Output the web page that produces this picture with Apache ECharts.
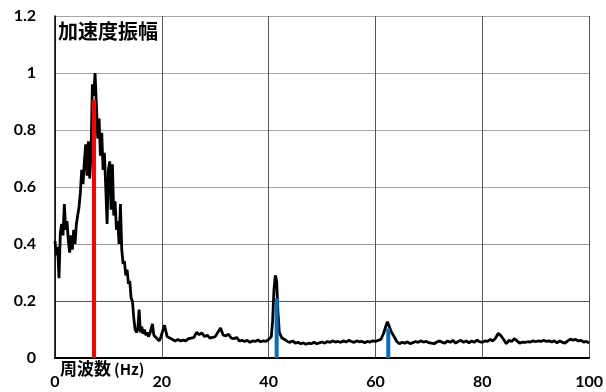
<!DOCTYPE html>
<html>
<head>
<meta charset="utf-8">
<script src="https://cdn.jsdelivr.net/npm/echarts@6/dist/echarts.min.js"></script>
<style>
html,body{margin:0;padding:0;background:#fff;}
#c{width:606px;height:392px;}
</style>
</head>
<body>
<div id="c"></div>
<script>
// Frequency (Hz) sample points of the spectrum
const freqHz = [
  0,0.25,0.5,0.75,1,1.25,1.5,1.75,2,2.25,2.5,2.75,3,3.25,3.5,3.75,4,4.25,4.5,4.75,
  5,5.25,5.5,5.75,6,6.25,6.5,6.75,7,7.25,7.5,7.75,8,8.25,8.5,8.75,9,9.25,9.5,9.75,
  10,10.25,10.5,10.75,11,11.25,11.5,11.75,12,12.25,12.5,12.75,13,13.25,13.5,13.75,14,14.25,14.5,14.75,
  15,15.25,15.5,15.75,16,16.25,16.5,16.75,17,17.25,17.5,17.75,18,18.25,18.5,18.75,19,19.25,19.5,19.75,
  20,20.5,21,21.5,22,22.5,23,23.5,24,24.5,25,25.5,26,26.5,27,27.5,28,28.5,29,29.5,
  30,30.5,31,31.5,32,32.5,33,33.5,34,34.5,35,35.5,36,36.5,37,37.5,38,38.5,39,39.5,
  40,40.5,40.75,41,41.25,41.5,41.75,42,42.5,43,43.5,44,44.5,45,45.5,46,46.5,47,47.5,48,48.5,49,49.5,
  50,50.5,51,51.5,52,52.5,53,53.5,54,54.5,55,55.5,56,56.5,57,57.5,58,58.5,59,59.5,
  60,60.5,61,61.5,62,62.25,62.5,63,63.5,64,64.5,65,65.5,66,66.5,67,67.5,68,68.5,69,69.5,
  70,70.5,71,71.5,72,72.5,73,73.5,74,74.5,75,75.5,76,76.5,77,77.5,78,78.5,79,79.5,
  80,80.5,81,81.5,82,82.5,83,83.5,84,84.5,85,85.5,86,86.5,87,87.5,88,88.5,89,89.5,
  90,90.5,91,91.5,92,92.5,93,93.5,94,94.5,95,95.5,96,96.5,97,97.5,98,98.5,99,99.5,100
];
// Acceleration amplitude at each frequency point
const accelAmp = [
  0.41,0.36,0.39,0.28,0.44,0.47,0.43,0.54,0.45,0.48,0.41,0.37,0.43,0.38,0.45,0.40,0.47,0.50,0.53,0.58,
  0.66,0.61,0.69,0.75,0.64,0.76,0.63,0.72,0.96,0.92,1.00,0.89,0.77,0.84,0.71,0.79,0.66,0.72,0.60,0.47,
  0.66,0.69,0.52,0.68,0.50,0.55,0.45,0.48,0.40,0.54,0.38,0.33,0.34,0.29,0.31,0.26,0.27,0.21,0.20,0.14,
  0.10,0.09,0.10,0.17,0.09,0.11,0.085,0.10,0.08,0.09,0.075,0.085,0.08,0.12,0.08,0.075,0.07,0.065,0.06,0.07,
  0.065,0.115,0.075,0.07,0.065,0.06,0.065,0.06,0.063,0.06,0.068,0.07,0.072,0.09,0.082,0.088,0.075,0.08,0.07,0.072,
  0.075,0.09,0.105,0.08,0.078,0.083,0.07,0.068,0.072,0.06,0.062,0.058,0.062,0.055,0.06,0.058,0.063,0.057,0.06,0.058,
  0.065,0.075,0.13,0.24,0.29,0.27,0.16,0.09,0.07,0.065,0.058,0.055,0.06,0.052,0.055,0.05,0.053,0.048,0.052,0.05,0.055,0.05,0.053,
  0.056,0.052,0.058,0.055,0.06,0.056,0.058,0.055,0.06,0.056,0.062,0.058,0.055,0.06,0.057,0.058,0.054,0.058,0.056,0.06,
  0.058,0.062,0.065,0.085,0.115,0.127,0.12,0.09,0.075,0.058,0.05,0.055,0.052,0.057,0.05,0.054,0.058,0.055,0.06,0.056,0.058,
  0.054,0.052,0.05,0.056,0.06,0.055,0.052,0.06,0.055,0.062,0.052,0.058,0.062,0.055,0.06,0.053,0.06,0.055,0.063,0.057,
  0.055,0.06,0.058,0.065,0.06,0.07,0.087,0.078,0.065,0.05,0.062,0.058,0.068,0.06,0.052,0.056,0.055,0.057,0.056,0.06,
  0.057,0.06,0.058,0.062,0.058,0.06,0.056,0.06,0.053,0.06,0.055,0.052,0.06,0.066,0.063,0.065,0.06,0.062,0.056,0.058,0.053
];
// Highlighted peaks
const redPeakFreq = [7.3];
const redPeakAmp = [0.907];
const bluePeakFreq = [41.5, 62.4];
const bluePeakAmp = [0.21, 0.104];
// Axis ticks
const yTickMax = 1.2, yTickStep = 0.2;
const xTickMax = 100, xTickStep = 20;
const titleText = '加速度振幅';
const xNameMain = '周波数';
const xNameUnit = '(Hz)';

const lineData = freqHz.map((f, i) => [f, accelAmp[i]]);
const redData = redPeakFreq.map((f, i) => [f, redPeakAmp[i]]);
const blueData = bluePeakFreq.map((f, i) => [f, bluePeakAmp[i]]);

const numFont = 'Lato, "Open Sans", "Liberation Sans", sans-serif';
const cjkFont = '"Noto Sans CJK JP", "Noto Sans CJK SC", sans-serif';

const chart = echarts.init(document.getElementById('c'), null, {renderer: 'canvas'});
chart.setOption({
  animation: false,
  backgroundColor: '#fff',
  grid: {left: 55, right: 15, top: 16, bottom: 34, containLabel: false},
  xAxis: {
    type: 'value', min: 0, max: xTickMax, interval: xTickStep,
    axisLine: {show: true, onZero: false, lineStyle: {color: '#000', width: 2}},
    axisTick: {show: false},
    axisLabel: {color: '#000', fontSize: 16, fontWeight: 'bold', fontFamily: numFont, margin: 16},
    splitLine: {show: true, lineStyle: {color: '#555', width: 1}}
  },
  yAxis: {
    type: 'value', min: 0, max: yTickMax, interval: yTickStep,
    axisLine: {show: true, lineStyle: {color: '#000', width: 1.5}},
    axisTick: {show: false},
    axisLabel: {color: '#000', fontSize: 16, fontWeight: 'bold', fontFamily: numFont, margin: 19},
    splitLine: {show: true, lineStyle: {color: ['#000', '#555', '#999', '#a6a6a6', '#a6a6a6', '#a6a6a6', '#a6a6a6'], width: 1}}
  },
  series: [
    {
      type: 'line', data: lineData, showSymbol: false, symbol: 'none',
      lineStyle: {color: '#000', width: 2.8}, z: 2, silent: true
    },
    {
      type: 'bar', data: redData, barWidth: 4, itemStyle: {color: '#ff0000'}, z: 3, silent: true
    },
    {
      type: 'bar', data: blueData, barWidth: 4, itemStyle: {color: '#0070c0'}, z: 3, silent: true,
      barGap: '-100%'
    }
  ],
  graphic: [
    {type: 'text', left: 58, top: 21, style: {text: titleText, font: 'bold 20px ' + cjkFont, fill: '#000'}},
    {type: 'text', left: 60, top: 360, style: {text: xNameMain, font: 'bold 17px ' + cjkFont, fill: '#000'}},
    {type: 'text', left: 114, top: 362, style: {text: xNameUnit, font: 'bold 15px ' + cjkFont, fill: '#000'}}
  ]
});
</script>
</body>
</html>
